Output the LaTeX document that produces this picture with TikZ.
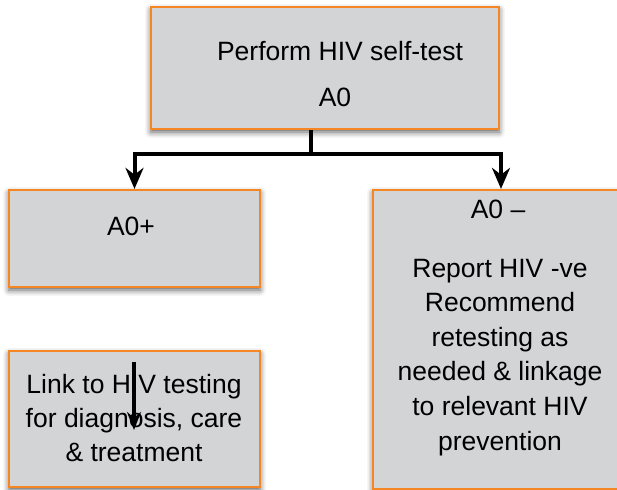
\documentclass[tikz,border=0pt]{standalone}
\usepackage{fontspec}
\setmainfont{Liberation Sans}
\usetikzlibrary{arrows.meta,shadows.blur}
\definecolor{boxfill}{RGB}{211,212,214}
\definecolor{boxedge}{RGB}{244,134,36}
\tikzset{
  box/.style={draw=boxedge, line width=2.2bp, fill=boxfill, inner sep=0pt,
    blur shadow={shadow xshift=0bp, shadow yshift=-3bp,
                 shadow blur radius=6bp, shadow opacity=65}},
  txt/.style={font=\fontsize{26.5bp}{34bp}\selectfont, inner sep=0pt, anchor=base},
  conn/.style={line width=4bp, line join=miter,
    -{Stealth[length=21bp,width=18bp]}},
  inner arrow/.style={line width=3.2bp,
    -{Stealth[length=18bp,width=14bp]}},
}
\begin{document}
\begin{tikzpicture}[x=1bp,y=-1bp]
  \useasboundingbox (0,0) rectangle (617,490);
  \clip (0,0) rectangle (617,490);

  % boxes
  \node[box, minimum width=348bp, minimum height=122bp] (top) at (325,68) {};
  \node[box, minimum width=251bp, minimum height=97bp]  (pos) at (134.5,238.5) {};
  \node[box, minimum width=251bp, minimum height=136bp] (link) at (134.5,419) {};
  \node[box, minimum width=256bp, minimum height=299bp] (neg) at (501,339.5) {};

  % texts
  \node[txt] (t1) at (340,61) {Perform HIV self-test};
  \node[txt] (t2) at (335,107) {A0};
  \node[txt] (t3) at (131,236) {A0+};
  \node[txt] (t4) at (498,219) {A0 –};
  \foreach \s [count=\i] in {{Report HIV -ve},{Recommend},{retesting as},
      {needed \& linkage},{to relevant HIV},{prevention}}
    \node[txt] at (500,{277+34.6*(\i-1)}) {\s};
  \foreach \s [count=\i] in {{Link to HIV testing},{for diagnosis, care},{\& treatment}}
    \node[txt] at (134,{393+34*(\i-1)}) {\s};

  % connectors
  \coordinate (j) at (311,154);
  \draw[line width=4bp] (top.south -| j) -- (j);
  \draw[conn] (j) -| (pos.north);
  \draw[conn] (j) -| (neg.north);

  % arrow over the link box
  \coordinate (a1) at (134,362);
  \coordinate (a2) at (134,430);
  \draw[inner arrow] (a1) -- (a2);
\end{tikzpicture}
\end{document}
